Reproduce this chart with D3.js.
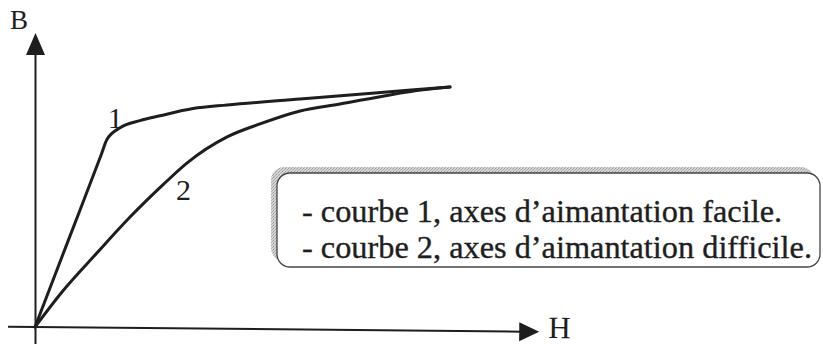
<!DOCTYPE html>
<html>
<head>
<meta charset="utf-8">
<script src="https://cdn.jsdelivr.net/npm/d3@7"></script>
<style>
  html, body { margin: 0; padding: 0; background: #fff; }
  svg { display: block; }
  svg text { font-family: "Liberation Serif", "Times New Roman", Times, serif; }
</style>
</head>
<body>
<svg id="chart" width="823" height="344"></svg>
<script>
// Magnetisation curves B(H) along the easy and hard axes
const curve1H = [0, 0.8, 1.6, 1.73, 2.05, 2.53, 3.01, 3.81, 4.63, 6.39, 8.55, 10];
const curve1B = [0, 3.6, 7.2, 7.8, 8.3, 8.6, 8.8, 9.1, 9.25, 9.5, 9.8, 10];
const curve2H = [0, 0.67, 1.49, 2.29, 3.08, 3.66, 4.63, 5.42, 6.39, 7.35, 8.55, 9.35, 10];
const curve2B = [0, 1.5, 3.08, 4.58, 5.92, 6.83, 7.92, 8.46, 9.0, 9.29, 9.67, 9.88, 10];
const curveLabels = ["1", "2"];
const curveLabelPos = [[1.75, 8.3], [3.4, 5.3]]; // [H, B] of each curve's number
const axisNames = ["H", "B"];
const legendLines = [
  "- courbe 1, axes d\u2019aimantation facile.",
  "- courbe 2, axes d\u2019aimantation difficile."
];

const svg = d3.select("#chart");
const ink = "#1e1e1e";

const x = d3.scaleLinear().domain([0, 10]).range([35, 450]);
const y = d3.scaleLinear().domain([0, 10]).range([327, 87]);

// Axes drawn as arrows from the origin
const ox = x(0), oy = y(0);
const hEnd = x(12.15), bEnd = y(12.25);

// H axis (slightly tilted, as drawn on the page)
const hAxis = svg.append("g")
  .attr("transform", `rotate(0.55, ${ox}, ${oy})`);
hAxis.append("line")
  .attr("x1", x(-0.65)).attr("y1", oy)
  .attr("x2", hEnd - 18).attr("y2", oy)
  .attr("stroke", ink).attr("stroke-width", 2);
hAxis.append("path")
  .attr("d", `M${hEnd},${oy} L${hEnd - 20},${oy - 9.5} L${hEnd - 20},${oy + 9.5} Z`)
  .attr("fill", ink);
hAxis.append("text")
  .attr("x", hEnd + 9).attr("y", oy + 6)
  .attr("font-size", 31)
  .attr("fill", ink)
  .text(axisNames[0]);

// B axis
svg.append("line")
  .attr("x1", ox + 0.5).attr("y1", 344)
  .attr("x2", ox + 0.5).attr("y2", bEnd + 20)
  .attr("stroke", ink).attr("stroke-width", 2);
svg.append("path")
  .attr("d", `M${ox + 0.5},${bEnd} L${ox - 9},${bEnd + 22} L${ox + 10},${bEnd + 22} Z`)
  .attr("fill", ink);
svg.append("text")
  .attr("x", 10).attr("y", 29)
  .attr("font-size", 27)
  .attr("fill", ink)
  .text(axisNames[1]);

// Curves
const line = d3.line()
  .x(d => x(d[0]))
  .y(d => y(d[1]))
  .curve(d3.curveMonotoneX);

const series = [
  d3.zip(curve1H, curve1B),
  d3.zip(curve2H, curve2B)
];

svg.selectAll("path.curve")
  .data(series)
  .join("path")
  .attr("class", "curve")
  .attr("d", line)
  .attr("fill", "none")
  .attr("stroke", ink)
  .attr("stroke-width", 3)
  .attr("stroke-linejoin", "round")
  .attr("stroke-linecap", "round");

svg.selectAll("text.curve-label")
  .data(curveLabels)
  .join("text")
  .attr("class", "curve-label")
  .attr("x", (d, i) => x(curveLabelPos[i][0]))
  .attr("y", (d, i) => y(curveLabelPos[i][1]))
  .attr("font-size", 30)
  .attr("fill", ink)
  .text(d => d);

// Legend box with a grainy drop shadow on the upper-left side
const defs = svg.append("defs");
const pat = defs.append("pattern")
  .attr("id", "grain")
  .attr("width", 3).attr("height", 3)
  .attr("patternUnits", "userSpaceOnUse");
pat.append("rect").attr("width", 3).attr("height", 3).attr("fill", "#d4d4d4");
pat.append("rect").attr("x", 0).attr("y", 0).attr("width", 1).attr("height", 1).attr("fill", "#9a9a9a");
pat.append("rect").attr("x", 2).attr("y", 1).attr("width", 1).attr("height", 1).attr("fill", "#a8a8a8");
pat.append("rect").attr("x", 1).attr("y", 2).attr("width", 1).attr("height", 1).attr("fill", "#b0b0b0");

const box = { x: 277, y: 173, w: 543, h: 94, r: 13 };
svg.append("rect")
  .attr("x", box.x - 6).attr("y", box.y - 6)
  .attr("width", box.w).attr("height", box.h)
  .attr("rx", box.r).attr("ry", box.r)
  .attr("fill", "url(#grain)");
svg.append("rect")
  .attr("x", box.x).attr("y", box.y)
  .attr("width", box.w).attr("height", box.h)
  .attr("rx", box.r).attr("ry", box.r)
  .attr("fill", "#fff")
  .attr("stroke", "#444")
  .attr("stroke-width", 1.3);

// Legend text: a slightly larger face, fitted so the longer line spans 510px
const legendText = svg.selectAll("text.legend")
  .data(legendLines)
  .join("text")
  .attr("class", "legend")
  .attr("x", 302)
  .attr("y", (d, i) => 222 + i * 36)
  .attr("font-size", 31)
  .attr("fill", ink)
  .attr("stroke", ink)
  .attr("stroke-width", 0.35)
  .text(d => d);
const naturals = legendText.nodes().map(n => n.getComputedTextLength());
const fit = 510 / naturals[1];
legendText
  .attr("textLength", (d, i) => naturals[i] * fit)
  .attr("lengthAdjust", "spacingAndGlyphs");
</script>
</body>
</html>
